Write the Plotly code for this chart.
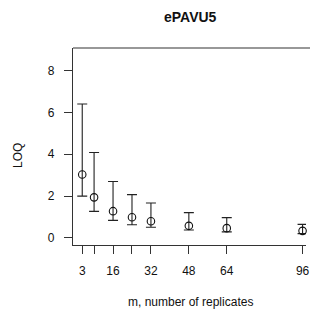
import plotly.graph_objects as go

# data
m_values = [3, 8, 16, 24, 32, 48, 64, 96]
loq_mean = [3.03, 1.94, 1.28, 0.99, 0.80, 0.58, 0.47, 0.34]
loq_upper = [6.40, 4.08, 2.70, 2.07, 1.67, 1.21, 0.97, 0.65]
loq_lower = [2.00, 1.27, 0.84, 0.63, 0.51, 0.38, 0.29, 0.21]
x_tick_vals = [3, 8, 16, 24, 32, 48, 64, 96]
x_tick_text = ["3", "", "16", "", "32", "48", "64", "96"]
y_tick_vals = [0, 2, 4, 6, 8]

W, H = 310, 313
ML, MR, MT, MB = 73, 0, 48, 68
PW, PH = W - ML - MR, H - MT - MB

def px_x(p):
    return (p - ML) / PW

def px_y(p):
    return (H - MB - p) / PH

err_plus = [u - m for u, m in zip(loq_upper, loq_mean)]
err_minus = [m - l for m, l in zip(loq_mean, loq_lower)]

fig = go.Figure()
fig.add_trace(go.Scatter(
    x=m_values, y=loq_mean, mode="markers",
    marker=dict(symbol="circle-open", size=7.5, color="#111", line=dict(width=1.1, color="#111")),
    error_y=dict(type="data", symmetric=False, array=err_plus, arrayminus=err_minus,
                 color="#222", thickness=1.1, width=5),
    cliponaxis=False, showlegend=False,
))

font = "Liberation Sans, Arial, Helvetica, sans-serif"
fig.update_layout(
    width=W, height=H,
    margin=dict(l=ML, r=MR, t=MT, b=MB),
    paper_bgcolor="white", plot_bgcolor="white",
    font=dict(family=font, size=12, color="#111"),
    xaxis=dict(range=[-0.9, 97.45], tickvals=x_tick_vals, ticktext=x_tick_text,
               showgrid=False, zeroline=False, showline=True, linecolor="#333", linewidth=1.2,
               ticks="outside", ticklen=8, tickcolor="#333", tickwidth=1,
               ticklabelstandoff=6, ticklabeloverflow="allow", tickfont=dict(size=12)),
    yaxis=dict(range=[-0.335, 9.07], tickvals=y_tick_vals,
               showgrid=False, zeroline=False, showline=True, linecolor="#333", linewidth=1.2,
               ticks="outside", ticklen=8, tickcolor="#333", tickwidth=1,
               ticklabelstandoff=7, tickfont=dict(size=12)),
    shapes=[dict(type="line", xref="paper", yref="paper", x0=0, x1=1.05, y0=1, y1=1,
                 line=dict(color="#333", width=1.2))],
    annotations=[
        dict(text="<b>ePAVU5</b>", xref="paper", yref="paper", x=px_x(193), y=px_y(17),
             showarrow=False, font=dict(size=14, family=font), xanchor="center", yanchor="middle"),
        dict(text="m, number of replicates", xref="paper", yref="paper", x=px_x(193), y=px_y(302),
             showarrow=False, font=dict(size=12, family=font), xanchor="center", yanchor="middle"),
        dict(text="LOQ", xref="paper", yref="paper", x=px_x(17), y=px_y(155), textangle=-90,
             showarrow=False, font=dict(size=12, family=font), xanchor="center", yanchor="middle"),
    ],
)

fig.write_html(
    "out.html",
    config={"displayModeBar": False},
    post_script="document.body.style.margin='0';document.body.style.overflow='hidden';",
)
